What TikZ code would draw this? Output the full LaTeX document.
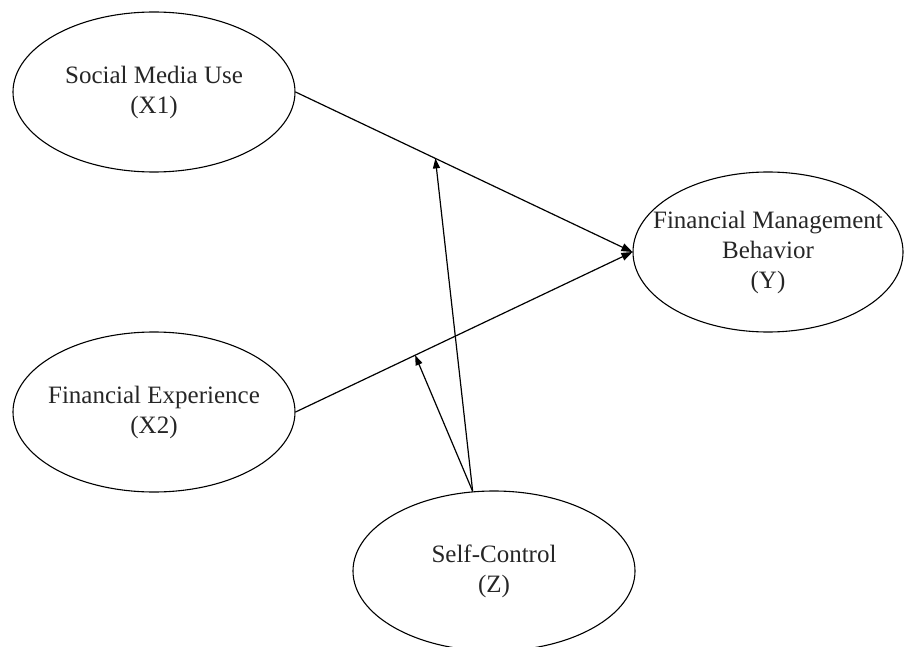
\documentclass[tikz,border=0pt]{standalone}
\usepackage{fontspec}
\setmainfont{Liberation Serif}
\usetikzlibrary{shapes.geometric,arrows.meta,calc}
\begin{document}
\begin{tikzpicture}[x=1pt,y=-1pt,
  latent/.style={draw, line width=1.1pt, ellipse, inner xsep=-20pt, inner ysep=0pt, minimum width=282pt, minimum height=160pt, align=center, font=\fontsize{25}{30}\selectfont, text=black!85},
  path/.style={line width=1.2pt, -{Triangle[length=11pt,width=8pt]}},
  modpath/.style={line width=1.2pt, -{Triangle[length=10pt,width=7pt]}}]
\useasboundingbox (0,0) rectangle (904,647);
\node[latent] (x1) at (154,92) {Social Media Use\\(X1)};
\node[latent] (x2) at (154,412) {Financial Experience\\(X2)};
\node[latent, minimum width=270pt] (y) at (768,252) {Financial Management\\Behavior\\(Y)};
\node[latent] (z) at (494,571) {Self-Control\\(Z)};
\draw[path] (x1.east) -- (y.west);
\draw[path] (x2.east) -- (y.west);
\coordinate (m1) at ($(x1.east)!0.415!(y.west)$);
\coordinate (m2) at ($(x2.east)!0.355!(y.west)$);
\coordinate (zs) at (z.105);
\draw[modpath] (zs) -- (m1);
\draw[modpath] (zs) -- (m2);
\end{tikzpicture}
\end{document}
